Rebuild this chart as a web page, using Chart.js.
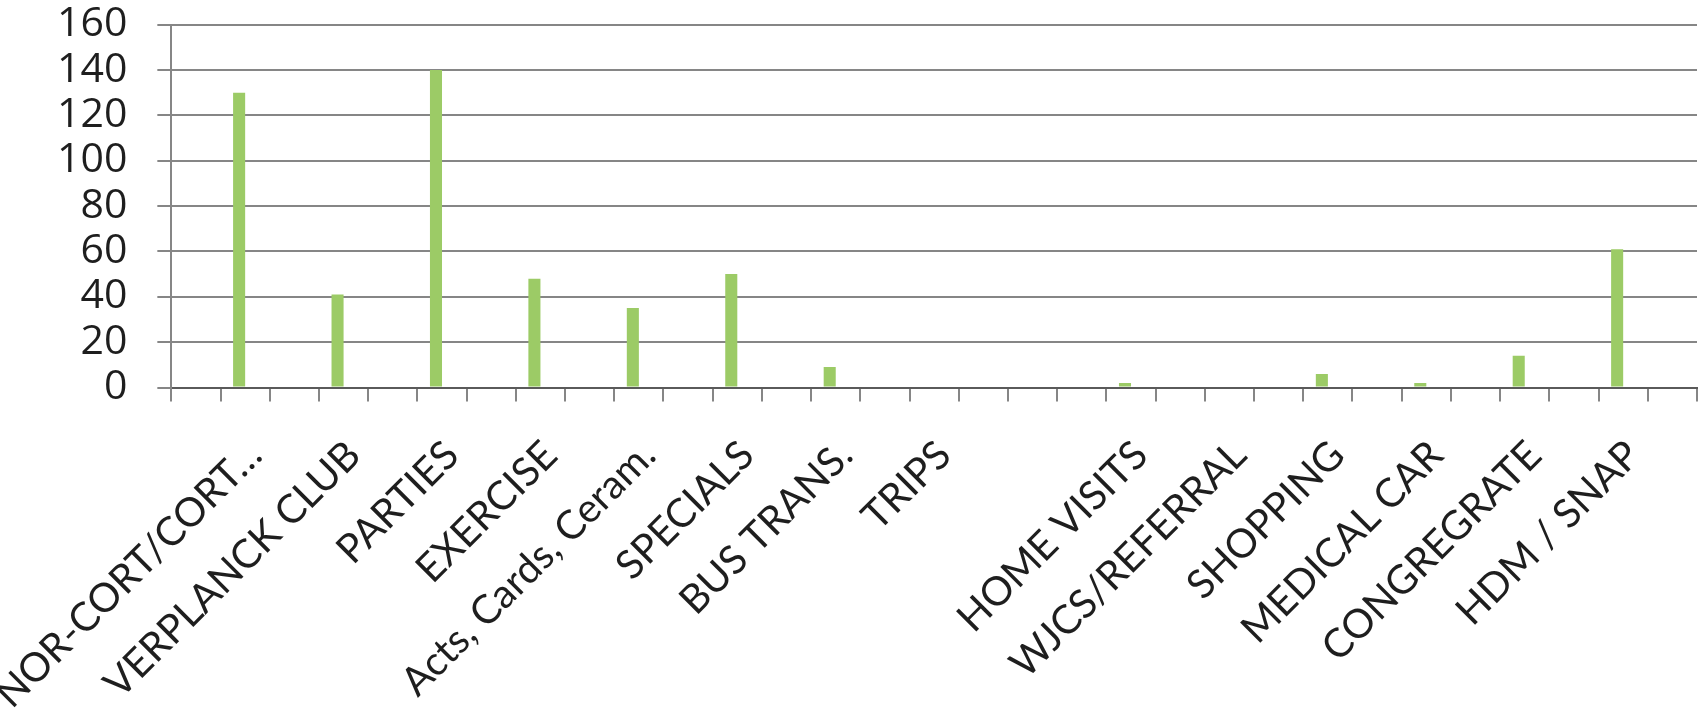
<!DOCTYPE html>
<html>
<head>
<meta charset="utf-8">
<script src="https://cdn.jsdelivr.net/npm/chart.js@4"></script>
<style>
  html, body { margin: 0; padding: 0; background: #ffffff; }
  #wrap { width: 1700px; height: 711px; }
</style>
</head>
<body>
<div id="wrap"><canvas id="c" width="1700" height="711"></canvas></div>
<script>
// ---- data ----
const categories = ['NOR-CORT/CORT\u2026', 'VERPLANCK CLUB', 'PARTIES', 'EXERCISE', 'Acts, Cards, Ceram.', 'SPECIALS', 'BUS TRANS.', 'TRIPS', '', 'HOME VISITS', 'WJCS/REFERRAL', 'SHOPPING', 'MEDICAL CAR', 'CONGREGRATE', 'HDM / SNAP'];
const values = [130, 41, 140, 48, 35, 50, 9, 0, 0, 2, 0, 6, 2, 14, 61];
const yMin = 0;
const yMax = 160;
const yStep = 20;

// The original axis has a tick mark every half category: build slot labels
// (category on odd slots, blank on even slots), as the library needs.
const slotLabels = [];
const slotValues = [];
const slotEmpty = [];
for (let i = 0; i < categories.length * 2 + 1; i++) {
  if (i % 2 === 1) {
    slotLabels.push(categories[(i - 1) / 2]);
    slotValues.push(values[(i - 1) / 2]);
  } else {
    slotLabels.push('');
    slotValues.push(null);
  }
  slotEmpty.push(null);
}

const gridGray = '#868686';
const textColor = '#1e1e1e';
const yFont = { family: "'Open Sans', sans-serif", size: 41 };
const xFont = { family: "Lato, 'Open Sans', sans-serif", size: 40 };
const yLabelGap = 30;
const xLabelGap = 30;
const xLabelAngle = 45;

new Chart(document.getElementById('c'), {
  type: 'bar',
  data: {
    labels: slotLabels,
    datasets: [
      { label: 'Count', data: slotValues, backgroundColor: '#9CCB66', borderWidth: 0,
        categoryPercentage: 0.49, barPercentage: 1.0 },
      { label: '', data: slotEmpty, backgroundColor: 'rgba(0,0,0,0)', borderWidth: 0,
        categoryPercentage: 0.49, barPercentage: 1.0 }
    ]
  },
  options: {
    responsive: false,
    animation: false,
    devicePixelRatio: 1,
    layout: { padding: { left: 27, right: 3, top: 0, bottom: 0 } },
    plugins: { legend: { display: false }, tooltip: { enabled: false } },
    scales: {
      x: {
        offset: true,
        grid: { display: true, drawOnChartArea: false, drawTicks: true, tickLength: 14,
                color: gridGray, lineWidth: 2, offset: true },
        border: { display: true, color: '#5a5a5a', width: 2 },
        ticks: { autoSkip: false, maxRotation: xLabelAngle, minRotation: xLabelAngle, font: xFont,
                 color: textColor, padding: xLabelGap, labelOffset: 10 },
        afterFit: (s) => { s.height -= 32; s.paddingLeft = 0; s.paddingRight = 0; }
      },
      y: {
        min: yMin, max: yMax,
        grid: { color: gridGray, lineWidth: 2, tickLength: 14, drawTicks: true },
        border: { display: true, color: gridGray, width: 2 },
        ticks: { stepSize: yStep, autoSkip: false, font: yFont, color: textColor, padding: yLabelGap },
        afterFit: (s) => { s.paddingTop -= yLabelGap; s.paddingBottom -= yLabelGap; }
      }
    }
  }
});
</script>
</body>
</html>
